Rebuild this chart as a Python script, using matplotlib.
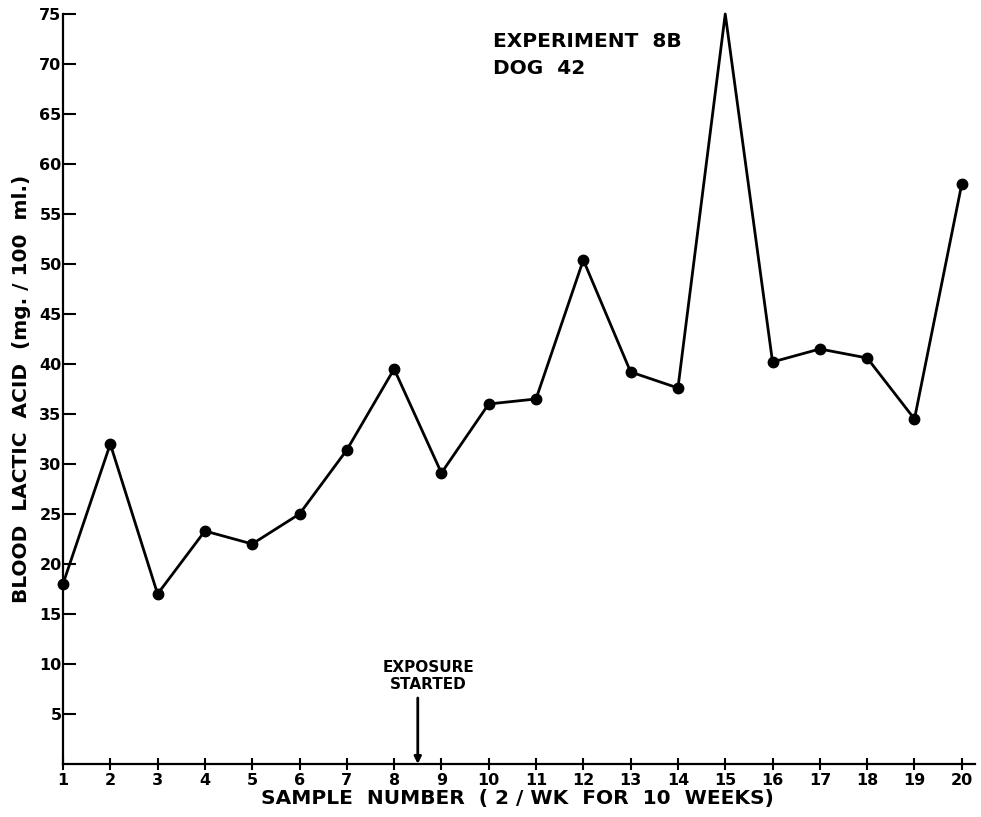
import matplotlib
matplotlib.use("Agg")
import matplotlib.pyplot as plt

# sample number and blood lactic acid (mg./100 ml.)
samples = list(range(1, 21))
lactic_acid = [18, 32, 17, 23.3, 22, 25, 31.4, 39.5, 29.1, 36, 36.5,
               50.4, 39.2, 37.6, 75, 40.2, 41.5, 40.6, 34.5, 58]
y_ticks = list(range(5, 80, 5))
exposure_start = 8.5

plt.rcParams["font.family"] = "DejaVu Sans"

fig = plt.figure(figsize=(9.81, 8.17), dpi=100)
ax = fig.add_axes([0.0642, 0.0649, 0.9297, 0.918])

# peak at sample 15 runs off the top, no dot drawn there
dots = [i for i in range(len(samples)) if lactic_acid[i] < 75]
ax.plot(samples, lactic_acid, color="black", linewidth=2.0,
        marker="o", markersize=7.5, markevery=dots, clip_on=False)

ax.set_xlim(1, 20.28)
ax.set_ylim(0, 75)
ax.set_xticks(samples)
ax.set_yticks(y_ticks)

for side in ["top", "right"]:
    ax.spines[side].set_visible(False)
for side in ["left", "bottom"]:
    ax.spines[side].set_linewidth(1.6)

ax.tick_params(axis="y", direction="in", length=9, width=1.5, pad=1,
               labelsize=11.5)
ax.tick_params(axis="x", direction="inout", length=9, width=1.5, pad=2,
               labelsize=11.5)
for lbl in ax.get_xticklabels() + ax.get_yticklabels():
    lbl.set_fontweight("bold")

ax.set_ylabel("BLOOD  LACTIC  ACID  (mg. / 100  ml.)", fontsize=14.5,
              fontweight="bold")
ax.yaxis.set_label_coords(-0.035, 0.5)
ax.set_xlabel("SAMPLE  NUMBER  ( 2 / WK  FOR  10  WEEKS)", fontsize=14.5,
              fontweight="bold")
ax.xaxis.set_label_coords(0.498, -0.033)

ax.text(0.471, 0.945, "EXPERIMENT  8B\nDOG  42", transform=ax.transAxes,
        fontsize=14.5, fontweight="bold", ha="left", va="center",
        linespacing=1.55)

ax.text(exposure_start + 0.22, 8.8, "EXPOSURE\nSTARTED", ha="center",
        va="center", fontsize=11, fontweight="bold", linespacing=1.15)
ax.annotate("", xy=(exposure_start, 0), xytext=(exposure_start, 6.6),
            arrowprops=dict(arrowstyle="-|>", color="black", lw=2.0,
                            shrinkA=0, shrinkB=0, mutation_scale=10))

fig.savefig("out.png", dpi=100, facecolor="white")
